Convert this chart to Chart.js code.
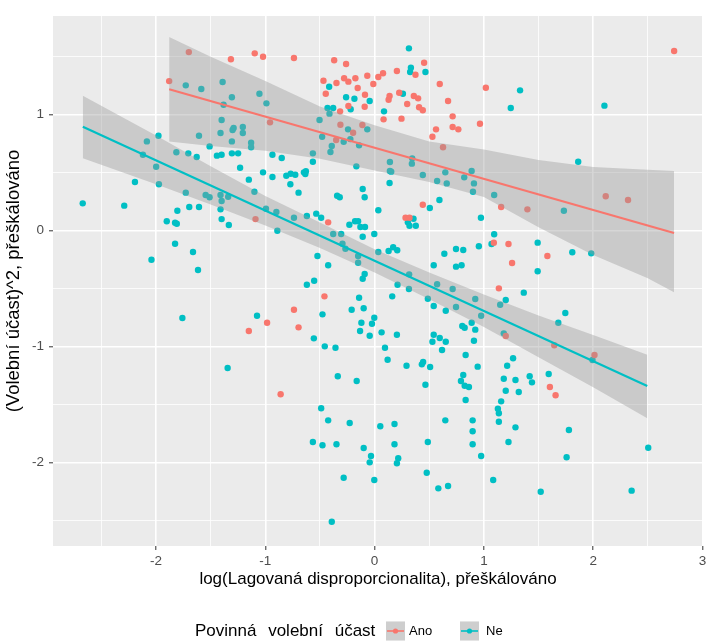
<!DOCTYPE html>
<html><head><meta charset="utf-8">
<script src="https://cdn.jsdelivr.net/npm/chart.js@4.4.1/dist/chart.umd.min.js"></script>
<style>html,body{margin:0;padding:0;background:#fff}#wrap{width:707px;height:641px;position:relative}</style>
</head><body><div id="wrap"><canvas id="c"></canvas></div>
<script>
// ---- data ----
const anoX = [-1.70,-1.88,-1.315,-1.097,-1.021,-1.09,-0.738,-0.37,-0.261,-0.468,-0.447,-0.349,-0.279,-0.24,-0.176,-0.155,-0.067,-0.088,-0.012,0.034,0.077,-0.091,-0.24,-0.316,0.204,0.453,0.374,0.225,0.137,0.128,0.298,0.359,0.398,0.407,0.441,0.246,0.596,0.672,0.714,0.714,0.766,0.562,0.529,0.626,-0.313,-0.352,-0.197,-0.112,-0.957,-0.425,0.441,0.283,0.319,2.741,1.018,0.964,1.158,1.398,2.115,2.319,1.091,1.225,1.258,1.581,1.137,-1.151,-0.984,-0.738,-0.696,-0.459,-0.86,1.2,1.644,2.012,1.604,1.656,0.082];
const anoY = [1.54,1.29,1.478,1.529,1.50,0.10,1.489,1.469,1.437,1.293,1.181,1.273,1.314,1.285,1.314,1.23,1.336,1.172,1.265,1.325,1.357,1.069,1.075,1.029,1.377,1.448,1.345,1.19,1.161,1.129,1.092,1.161,1.141,1.064,1.038,0.966,1.265,1.118,0.986,0.894,0.874,0.874,0.81,0.719,0.914,0.782,0.845,0.911,0.934,0.072,0.224,0.112,0.112,1.549,1.233,0.922,0.204,0.184,0.297,0.265,-0.103,-0.115,-0.278,-0.218,-0.497,-0.865,-0.793,-0.681,-0.833,-0.566,-1.41,-0.908,-0.988,-1.072,-1.347,-1.419,0.96];

const neX = [-1.728,-1.586,-1.391,-1.306,-1.382,-1.054,-0.99,-1.40,-1.41,-1.30,-1.29,-1.206,-1.206,-1.306,-1.13,-1.13,-1.607,-1.51,-1.443,-1.40,-1.306,-1.249,-1.231,-1.021,-1.151,-1.10,-0.994,-2.084,-1.978,-2.12,-1.999,-1.814,-1.705,-1.628,-2.193,-1.974,-1.728,-1.546,-1.51,-1.41,-1.40,-1.34,-1.41,-1.40,-1.334,-2.671,-2.291,-1.805,-1.696,-1.607,-1.902,-1.826,-1.81,-1.826,-1.662,-2.042,-1.616,
-1.759,-1.076,-1.345,
0.314,0.332,0.325,0.465,0.259,-0.261,-0.185,-0.045,-0.416,-0.431,-0.379,-0.413,-0.219,0.086,-0.504,-0.48,-0.392,-0.404,-0.243,-0.283,-0.222,-0.067,-0.142,-0.935,-0.85,-0.565,-0.565,-0.167,-0.935,-0.808,-0.768,-0.726,-0.771,-0.647,-0.629,-0.634,-0.696,-0.343,-0.319,-0.109,-0.091,0.034,0.14,0.14,0.152,0.137,0.344,0.341,0.441,0.572,0.66,0.647,0.593,0.505,0.356,0.304,0.319,0.377,-0.899,-0.89,-0.738,-0.62,-0.534,-0.489,-0.231,-0.179,-0.151,-0.13,-0.088,-0.109,-0.003,-0.379,-0.306,-0.294,-0.267,-0.523,-0.425,-0.151,-0.151,0.034,0.128,0.17,0.207,0.316,0.541,0.638,0.745,0.811,0.745,0.796,-0.62,-0.553,-0.109,-0.091,0.21,
1.331,1.246,2.103,1.863,0.888,0.82,0.909,0.90,1.094,1.732,0.973,1.094,1.07,0.954,1.492,1.492,1.809,1.982,
-0.477,-0.556,-0.456,-0.358,-0.337,-0.164,-0.142,-0.21,-0.1,-0.003,-0.024,-0.121,-0.133,-0.045,0.064,0.204,0.095,0.119,0.161,0.314,0.487,0.541,0.572,0.714,0.745,0.651,0.802,0.824,0.541,0.529,0.596,0.651,0.617,0.833,0.292,0.432,0.444,0.508,0.465,0.811,0.79,0.824,0.833,-0.489,-0.425,-0.228,0.052,0.182,0.647,-0.565,-0.477,-0.349,-0.1,-0.033,-0.045,0.182,0.216,0.204,0.487,0.477,0.583,0.672,-0.283,-0.003,-0.392,
1.365,0.921,1.149,1.2,0.975,1.745,1.681,0.888,0.921,0.909,1.182,1.994,0.943,1.267,1.213,1.182,1.289,1.2,1.319,1.419,1.44,1.593,0.863,1.158,1.128,1.137,1.137,1.289,1.225,0.897,0.897,0.897,0.975,1.778,1.757,2.504,1.085,1.52,2.352];
const neY = [1.253,1.222,1.282,1.15,1.086,1.181,1.098,0.954,0.842,0.868,0.885,0.894,0.842,0.77,0.759,0.719,0.819,0.727,0.647,0.655,0.667,0.667,0.543,0.503,0.44,0.336,0.19,0.77,0.819,0.655,0.552,0.676,0.667,0.635,0.42,0.40,0.328,0.308,0.288,0.308,0.256,0.293,0.184,0.10,0.049,0.236,0.216,0.172,0.204,0.204,0.081,0.069,0.06,-0.112,-0.184,-0.25,-0.339,
-0.753,-0.733,-1.184,
1.572,1.405,1.368,1.368,1.181,1.15,1.138,1.118,1.241,1.058,1.058,1.009,1.047,1.029,0.954,0.81,0.73,0.678,0.874,0.767,0.79,0.874,0.736,0.655,0.627,0.667,0.595,0.555,0.463,0.474,0.491,0.483,0.40,0.503,0.512,0.489,0.328,0.302,0.288,0.359,0.288,0.176,0.592,0.515,0.509,0.411,0.624,0.578,0.48,0.428,0.408,0.503,0.265,0.196,0.103,0.072,0.043,0.043,0.161,0.0,0.112,0.127,0.147,0.112,0.052,0.081,0.081,0.032,0.032,-0.052,-0.028,-0.028,-0.028,-0.112,-0.155,-0.218,-0.298,-0.218,-0.276,-0.184,-0.175,-0.143,-0.169,-0.376,-0.298,-0.198,-0.158,-0.166,-0.31,-0.298,-0.466,-0.431,-0.414,-0.373,-0.466,
1.21,1.058,1.078,0.595,0.515,0.46,0.408,0.336,0.308,0.172,0.112,-0.031,-0.115,-0.134,-0.103,-0.35,-0.186,-0.195,
-0.721,-0.928,-0.997,-1.009,-1.255,-1.296,-0.578,-0.681,-0.669,-0.75,-0.802,-0.793,-0.865,-0.905,-0.876,-0.897,-1.009,-1.112,-0.566,-0.503,-0.586,-0.649,-0.462,-0.503,-0.658,-0.69,-0.822,-0.836,-0.897,-0.957,-0.925,-0.957,-1.028,-1.072,-1.164,-1.152,-1.132,-1.175,-1.328,-1.244,-1.296,-1.336,-1.459,-1.531,-1.635,-1.658,-1.686,-1.666,-1.635,-1.822,-1.85,-1.841,-1.873,-1.942,-1.997,-1.841,-1.962,-2.005,-1.822,-2.086,-2.221,-2.201,-2.129,-2.149,-2.509,
-0.534,-0.589,-0.638,-0.597,-0.733,-0.71,-0.793,-0.793,-0.853,-0.948,-0.885,-1.115,-1.172,-1.1,-1.164,-1.276,-1.287,-1.379,-1.391,-1.255,-1.307,-1.235,-1.347,-1.471,-1.534,-1.574,-1.647,-1.695,-1.822,-1.635,-1.729,-1.841,-1.942,-1.718,-1.953,-1.871,-2.149,-2.25,-2.241];

// fitted lines and confidence bands
const anoFitX = [-1.88, 2.74];
const anoFitY = [1.22, -0.02];
const anoBandX  = [-1.88, -1.5, -1.0, -0.5, 0.0, 0.5, 1.0, 1.5, 2.0, 2.5, 2.74];
const anoBandHi = [1.67, 1.50, 1.29, 1.07, 0.91, 0.77, 0.70, 0.61, 0.55, 0.525, 0.515];
const anoBandLo = [0.77, 0.73, 0.69, 0.62, 0.52, 0.42, 0.29, 0.03, -0.21, -0.41, -0.53];

const neFitX = [-2.67, 2.495];
const neFitY = [0.897, -1.339];
const neBandX  = [-2.67, -2.0, -1.5, -1.0, -0.5, 0.0, 0.5, 1.0, 1.5, 2.0, 2.495];
const neBandHi = [1.164, 0.82, 0.555, 0.30, 0.07, -0.16, -0.36, -0.55, -0.73, -0.90, -1.07];
const neBandLo = [0.624, 0.40, 0.225, 0.045, -0.15, -0.36, -0.59, -0.83, -1.09, -1.35, -1.617];

const xMajor = [-2, -1, 0, 1, 2, 3];
const xMinor = [-2.5, -1.5, -0.5, 0.5, 1.5, 2.5];
const yMajor = [-2, -1, 0, 1];
const yMinor = [-2.5, -1.5, -0.5, 0.5, 1.5];

const xTitle = 'log(Lagovaná disproporcionalita), přeškálováno';
const yTitle = '(Volební účast)^2, přeškálováno';
const legendTitle = 'Povinná volební účast';
const groups = ['Ano', 'Ne'];

// ---- styling ----
const RED = '#F8766D', TEAL = '#00BFC4';
const BAND = 'rgba(153,153,153,0.4)';
const FONT = '"Liberation Sans", Arial, sans-serif';
const zip = (xs, ys) => xs.map((x, i) => ({x, y: ys[i]}));

const isMajor = v => Math.abs(v - Math.round(v)) < 1e-9;

const bgPlugin = {
  id: 'panelBg',
  beforeDraw(chart) {
    const {ctx, chartArea: a} = chart;
    ctx.save();
    ctx.fillStyle = '#FFFFFF';
    ctx.fillRect(0, 0, chart.width, chart.height);
    ctx.fillStyle = '#EBEBEB';
    ctx.fillRect(a.left, a.top, a.right - a.left, a.bottom - a.top);
    ctx.restore();
  }
};

const legendPlugin = {
  id: 'ggLegend',
  afterDraw(chart) {
    const {ctx} = chart;
    const cy = 631;
    ctx.save();
    ctx.textBaseline = 'middle';
    ctx.textAlign = 'left';
    ctx.fillStyle = '#000';
    ctx.font = '17px ' + FONT;
    if ('wordSpacing' in ctx) ctx.wordSpacing = '7px';
    ctx.fillText(legendTitle, 195, cy);
    if ('wordSpacing' in ctx) ctx.wordSpacing = '0px';
    const keys = [{x: 386, c: RED, label: groups[0], lx: 409}, {x: 460, c: TEAL, label: groups[1], lx: 486}];
    const ks = 19;
    keys.forEach(k => {
      ctx.fillStyle = '#F2F2F2';
      ctx.fillRect(k.x, cy - ks / 2, ks, ks);
      ctx.fillStyle = BAND;
      ctx.fillRect(k.x, cy - ks / 2, ks, ks);
      ctx.strokeStyle = k.c;
      ctx.lineWidth = 1.6;
      ctx.beginPath();
      ctx.moveTo(k.x + 1, cy); ctx.lineTo(k.x + ks - 1, cy);
      ctx.stroke();
      ctx.fillStyle = k.c;
      ctx.beginPath();
      ctx.arc(k.x + ks / 2, cy, 2.6, 0, Math.PI * 2);
      ctx.fill();
      ctx.fillStyle = '#000';
      ctx.font = '13px ' + FONT;
      ctx.fillText(k.label, k.lx, cy);
    });
    ctx.restore();
  }
};

const lineDs = (xs, ys, color, order) => ({
  type: 'line', data: zip(xs, ys), borderColor: color, borderWidth: 2.2,
  pointRadius: 0, fill: false, tension: 0, order
});

const cfg = {
  type: 'scatter',
  data: {
    datasets: [
      {type: 'line', data: zip(anoBandX, anoBandHi), borderWidth: 0, borderColor: 'rgba(0,0,0,0)', pointRadius: 0,
       backgroundColor: BAND, fill: 1, tension: 0, order: 5},
      {type: 'line', data: zip(anoBandX, anoBandLo), borderWidth: 0, borderColor: 'rgba(0,0,0,0)', pointRadius: 0,
       fill: false, tension: 0, order: 5},
      lineDs(anoFitX, anoFitY, RED, 4),
      {type: 'line', data: zip(neBandX, neBandHi), borderWidth: 0, borderColor: 'rgba(0,0,0,0)', pointRadius: 0,
       backgroundColor: BAND, fill: 4, tension: 0, order: 3},
      {type: 'line', data: zip(neBandX, neBandLo), borderWidth: 0, borderColor: 'rgba(0,0,0,0)', pointRadius: 0,
       fill: false, tension: 0, order: 3},
      lineDs(neFitX, neFitY, TEAL, 2),
      {label: groups[0], data: zip(anoX, anoY), backgroundColor: RED, borderWidth: 0, pointRadius: 3.2, order: 9},
      {label: groups[1], data: zip(neX, neY), backgroundColor: TEAL, borderWidth: 0, pointRadius: 3.2, order: 10}
    ]
  },
  options: {
    responsive: true, maintainAspectRatio: false, animation: false, events: [],
    layout: {padding: {top: 16, right: 1, bottom: 45, left: 0}},
    plugins: {legend: {display: false}, tooltip: {enabled: false}},
    scales: {
      x: {
        type: 'linear', min: -2.943, max: 3.005,
        afterBuildTicks: s => { s.ticks = xMinor.concat(xMajor).sort((a, b) => a - b).map(v => ({value: v})); },
        afterFit: s => { s.height = 50; s.paddingLeft = 0; s.paddingRight = 0; },
        border: {display: false},
        grid: {
          color: '#FFFFFF',
          lineWidth: c => isMajor(c.tick.value) ? 1.6 : 0.8,
          drawTicks: true, tickLength: 4,
          tickColor: c => isMajor(c.tick.value) ? '#333333' : 'rgba(0,0,0,0)',
          tickWidth: 1
        },
        ticks: {
          autoSkip: false, maxRotation: 0, minRotation: 0, padding: 3,
          color: '#4D4D4D', font: {family: FONT, size: 13.5},
          callback: v => isMajor(v) ? String(v) : ''
        },
        title: {display: true, text: xTitle, color: '#000', font: {family: FONT, size: 17},
                padding: {top: 0, bottom: 6}}
      },
      y: {
        type: 'linear', min: -2.718, max: 1.851,
        afterBuildTicks: s => { s.ticks = yMinor.concat(yMajor).sort((a, b) => a - b).map(v => ({value: v})); },
        afterFit: s => { s.width = 53; s.paddingTop = 0; s.paddingBottom = 0; },
        border: {display: false},
        grid: {
          color: '#FFFFFF',
          lineWidth: c => isMajor(c.tick.value) ? 1.6 : 0.8,
          drawTicks: true, tickLength: 4,
          tickColor: c => isMajor(c.tick.value) ? '#333333' : 'rgba(0,0,0,0)',
          tickWidth: 1
        },
        ticks: {
          autoSkip: false, padding: 5,
          color: '#4D4D4D', font: {family: FONT, size: 13.5},
          callback: v => isMajor(v) ? String(v) : ''
        },
        title: {display: true, text: yTitle, color: '#000', font: {family: FONT, size: 18.5},
                padding: {top: 3, bottom: 0}}
      }
    }
  },
  plugins: [bgPlugin, legendPlugin]
};

new Chart(document.getElementById('c'), cfg);
</script>
</body></html>
